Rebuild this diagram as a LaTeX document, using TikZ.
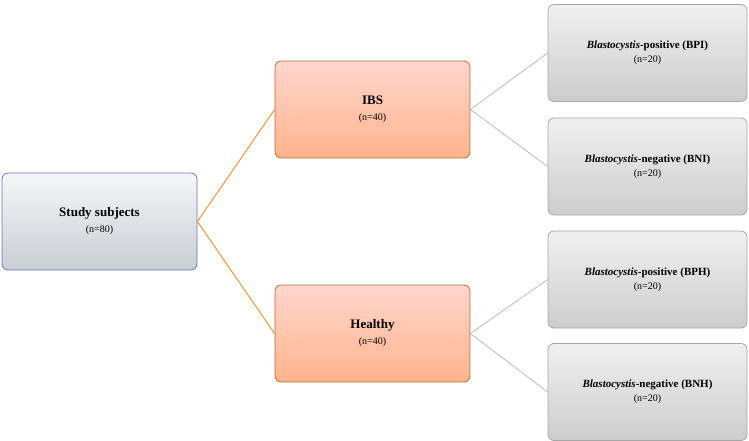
\documentclass[tikz,border=0pt]{standalone}
\usepackage{fontspec}
\setmainfont{Liberation Serif}
\begin{document}
\begin{tikzpicture}[x=1pt,y=-1pt,
  box/.style={rounded corners=6pt,line width=0.8pt,minimum width=195pt,minimum height=97pt,align=center,inner sep=2pt},
  bluebox/.style={box,draw=blue!40!gray!80,top color=blue!12!cyan!5!white!80!gray!30,bottom color=blue!35!cyan!10!gray!40},
  orbox/.style={box,draw=orange!60!red!50!gray,top color=orange!35!red!20!white,bottom color=orange!70!red!45!white},
  grbox/.style={box,minimum width=199pt,draw=gray!70,top color=gray!12,bottom color=gray!40},
  oline/.style={draw=orange!80!brown,line width=0.8pt},
  gline/.style={draw=gray!55,line width=0.8pt},
  ttl/.style={font=\fontsize{13}{15}\selectfont\bfseries},
  sub/.style={font=\fontsize{10}{12}\selectfont}]
\useasboundingbox (0,0) rectangle (749,441);
\node[bluebox] (s) at (99.5,221.5) {{\fontsize{13}{16}\selectfont\bfseries Study subjects}\\[4pt]{\fontsize{10}{12}\selectfont (n=80)}};
\node[orbox] (i) at (372.5,109.5) {{\fontsize{13}{16}\selectfont\bfseries IBS}\\[4pt]{\fontsize{10}{12}\selectfont (n=40)}};
\node[orbox] (h) at (372.5,333.5) {{\fontsize{13}{16}\selectfont\bfseries Healthy}\\[4pt]{\fontsize{10}{12}\selectfont (n=40)}};
\node[grbox] (a) at (647.5,53) {{\fontsize{11}{13}\selectfont\bfseries\textit{Blastocystis}-positive (BPI)}\\[2pt]{\fontsize{10}{12}\selectfont (n=20)}};
\node[grbox] (b) at (647.5,166.5) {{\fontsize{11}{13}\selectfont\bfseries\textit{Blastocystis}-negative (BNI)}\\[2pt]{\fontsize{10}{12}\selectfont (n=20)}};
\node[grbox] (c) at (647.5,279.5) {{\fontsize{11}{13}\selectfont\bfseries\textit{Blastocystis}-positive (BPH)}\\[2pt]{\fontsize{10}{12}\selectfont (n=20)}};
\node[grbox] (d) at (647.5,392) {{\fontsize{11}{13}\selectfont\bfseries\textit{Blastocystis}-negative (BNH)}\\[2pt]{\fontsize{10}{12}\selectfont (n=20)}};
\draw[oline] (s.east) -- (i.west);
\draw[oline] (s.east) -- (h.west);
\draw[gline] (i.east) -- (a.west);
\draw[gline] (i.east) -- (b.west);
\draw[gline] (h.east) -- (c.west);
\draw[gline] (h.east) -- (d.west);
\end{tikzpicture}
\end{document}
